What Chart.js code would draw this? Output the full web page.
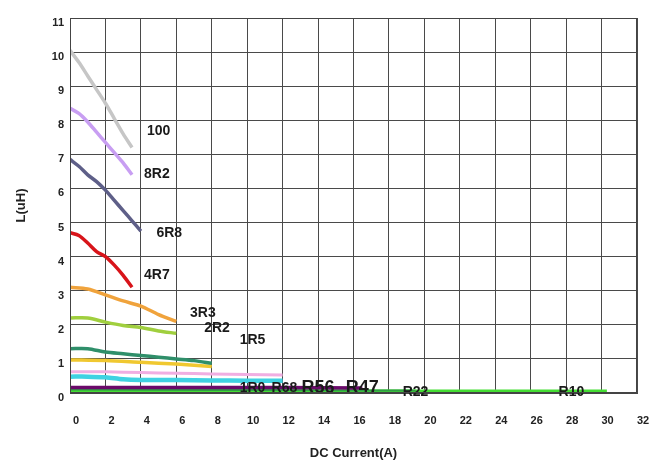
<!DOCTYPE html>
<html>
<head>
<meta charset="utf-8">
<script src="https://cdn.jsdelivr.net/npm/chart.js@4/dist/chart.umd.min.js"></script>
<style>
html,body{margin:0;padding:0;background:#fff;}
#wrap{width:665px;height:469px;position:relative;}
</style>
</head>
<body>
<div id="wrap"><canvas id="c" width="665" height="469"></canvas></div>
<script>
// ---- data (DC current in A, inductance in uH) ----
const seriesNames = ["100","8R2","6R8","4R7","3R3","2R2","1R5","1R0","R68","R56","R47","R22","R10"];
const xTicks = [0,2,4,6,8,10,12,14,16,18,20,22,24,26,28,30,32];
const yTicks = [0,1,2,3,4,5,6,7,8,9,10,11];

const i100 = [0,0.5,1,1.5,2,2.5,3,3.5];
const l100 = [10.05,9.7,9.3,8.9,8.5,8.05,7.6,7.2];
const i8R2 = [0,0.5,1,1.5,2,2.5,3,3.5];
const l8R2 = [8.35,8.2,7.95,7.65,7.35,7.05,6.75,6.4];
const i6R8 = [0,0.5,1,1.5,2,2.5,3,3.5,4];
const l6R8 = [6.85,6.65,6.4,6.2,5.95,5.65,5.35,5.05,4.75];
const i4R7 = [0,0.5,1,1.5,2,2.5,3,3.5];
const l4R7 = [4.7,4.62,4.4,4.15,4.0,3.75,3.45,3.1];
const i3R3 = [0,1,2,3,4,5,6];
const l3R3 = [3.1,3.05,2.88,2.7,2.55,2.3,2.1];
const i2R2 = [0,1,2,3,4,5,6];
const l2R2 = [2.2,2.2,2.08,1.98,1.92,1.82,1.75];
const i1R5 = [0,1,2,3,4,5,6,7,8];
const l1R5 = [1.3,1.3,1.2,1.15,1.1,1.05,1.0,0.95,0.87];
const i1R0 = [0,2,4,6,8];
const l1R0 = [0.97,0.95,0.9,0.85,0.78];
const iR68 = [0,2,4,6,8,10,12];
const lR68 = [0.62,0.62,0.6,0.58,0.56,0.54,0.53];
const iR56 = [0,1,2,3,4,6,8,10,12];
const lR56 = [0.48,0.48,0.46,0.4,0.38,0.38,0.37,0.36,0.36];
const iR47 = [0,4,8,12,16.5];
const lR47 = [0.16,0.16,0.16,0.16,0.15];
const iR22 = [0,8,14,19.5];
const lR22 = [0.1,0.09,0.08,0.07];
const iR10 = [0,8,16,24,30.3];
const lR10 = [0.06,0.06,0.05,0.05,0.05];

const currents = [i100,i8R2,i6R8,i4R7,i3R3,i2R2,i1R5,i1R0,iR68,iR56,iR47,iR22,iR10];
const inductances = [l100,l8R2,l6R8,l4R7,l3R3,l2R2,l1R5,l1R0,lR68,lR56,lR47,lR22,lR10];

// ---- styles ----
const colors = ["#c6c6c6","#c89ef2","#5e5f88","#d8141a","#f0a33c","#a0cf3e","#2f8f6a","#f0c830","#f0aee2","#3fd2e2","#6a0a6a","#2f9e44","#44dd33"];
const widths = [3.5,3.5,3.5,3.5,3.5,3.5,3.5,3.5,3,4.5,3.5,2,3.5];

// annotation label anchors (data units) and font sizes
const labelPos = [[5.0,7.68],[4.9,6.42],[5.6,4.69],[4.9,3.46],[7.5,2.34],[8.3,1.9],[10.3,1.55],[10.3,0.14],[12.1,0.14],[14.0,0.14],[16.5,0.14],[19.5,0.03],[28.3,0.03]];
const labelSize = [14,14,14,14,14,14,14,14,14,18,18,14,14];

const datasets = seriesNames.map((n,k)=>({
  label:n,
  data: currents[k].map((x,j)=>({x:x,y:inductances[k][j]})),
  borderColor:colors[k],
  backgroundColor:colors[k],
  borderWidth:widths[k],
  pointRadius:0,
  tension:0.3,
  fill:false
}));

const FONT = "'Liberation Sans', Arial, sans-serif";

const labelPlugin = {
  id:'seriesLabels',
  afterDatasetsDraw(chart){
    const ctx = chart.ctx, xs = chart.scales.x, ys = chart.scales.y;
    ctx.save();
    ctx.fillStyle = "#1a1a1a";
    ctx.textAlign = "center";
    ctx.textBaseline = "middle";
    seriesNames.forEach((n,k)=>{
      ctx.font = "bold " + labelSize[k] + "px " + FONT;
      ctx.fillText(n, xs.getPixelForValue(labelPos[k][0]), ys.getPixelForValue(labelPos[k][1]));
    });
    ctx.restore();
  }
};

new Chart(document.getElementById('c'),{
  type:'line',
  data:{datasets:datasets},
  options:{
    responsive:false,
    animation:false,
    events:[],
    layout:{padding:{left:14,right:28,top:18,bottom:0}},
    plugins:{legend:{display:false},tooltip:{enabled:false}},
    scales:{
      x:{
        type:'linear',min:0,max:32,
        afterBuildTicks(s){s.ticks = xTicks.map(v=>({value:v}));},
        afterFit(s){s.height = 76;},
        border:{color:'#444',width:1},
        grid:{color:'#4a4a4a',lineWidth:1,drawTicks:false},
        ticks:{color:'#222',padding:21,labelOffset:6,maxRotation:0,autoSkip:false,font:{family:FONT,size:11,weight:'bold'}},
        title:{display:true,text:'DC Current(A)',color:'#222',font:{family:FONT,size:13,weight:'bold'},padding:{top:0,bottom:8}}
      },
      y:{
        type:'linear',min:0,max:11,
        afterBuildTicks(s){s.ticks = yTicks.map(v=>({value:v}));},
        afterFit(s){s.width = 56;},
        border:{color:'#444',width:1},
        grid:{color:'#4a4a4a',lineWidth:1,drawTicks:false},
        ticks:{color:'#222',padding:6,labelOffset:5,autoSkip:false,font:{family:FONT,size:11,weight:'bold'}},
        title:{display:true,text:'L(uH)',color:'#222',font:{family:FONT,size:13,weight:'bold'},padding:{top:0,bottom:0}}
      }
    }
  },
  plugins:[labelPlugin, {
    id:'frame',
    afterDraw(chart){
      const a = chart.chartArea, ctx = chart.ctx;
      ctx.save(); ctx.strokeStyle='#444'; ctx.lineWidth=1;
      ctx.strokeRect(a.left+0.5,a.top+0.5,a.right-a.left-1,a.bottom-a.top-1);
      ctx.restore();
    }
  }]
});
</script>
</body>
</html>
